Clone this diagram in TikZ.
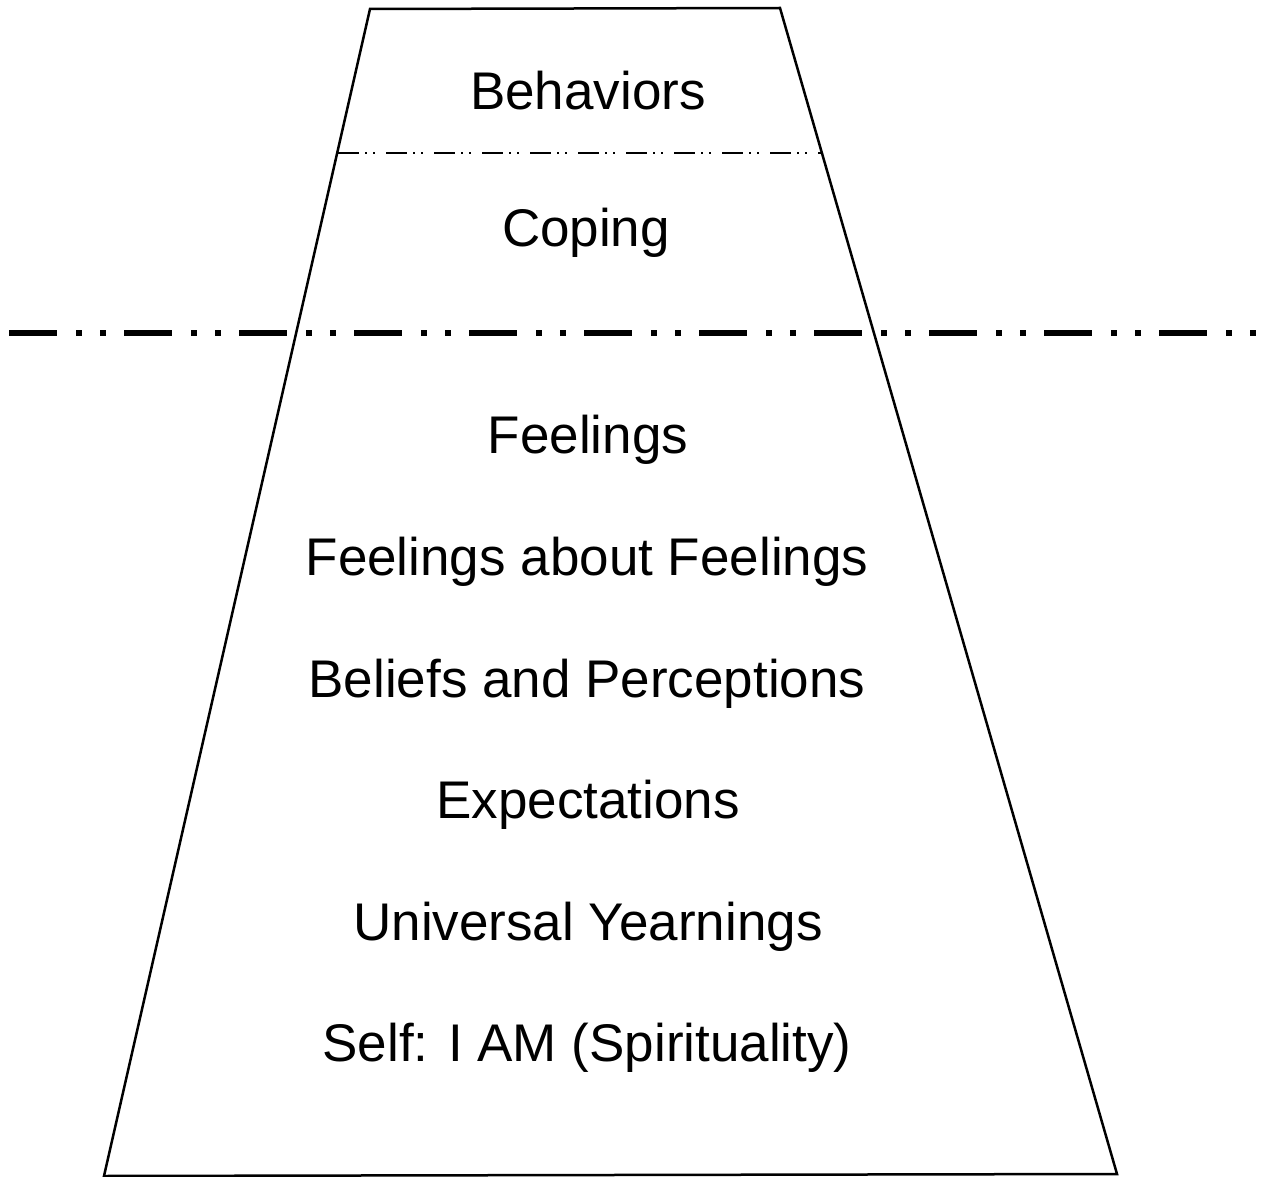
\documentclass[tikz,border=0pt]{standalone}
\usepackage{fontspec}
\setmainfont{Liberation Sans}
\begin{document}
\begin{tikzpicture}[x=1pt,y=-1pt,
  lbl/.style={anchor=base,inner sep=0pt,font=\fontsize{53}{60}\selectfont},
  edge/.style={line width=2.5pt,line join=miter},
  thinsep/.style={line width=2pt,dash pattern=on 21pt off 6pt on 2pt off 6pt on 2pt off 11pt},
  thicksep/.style={line width=6pt,dash pattern=on 48pt off 19pt on 6pt off 18pt on 6pt off 18pt}]
\useasboundingbox (0,0) rectangle (1262,1177);
\coordinate (tl) at (370,9);
\coordinate (tr) at (780,8);
\coordinate (br) at (1117,1174);
\coordinate (bl) at (104,1176);
\draw[edge] (tl) -- (tr) -- (br) -- (bl) -- cycle;
\coordinate (s1l) at (338,153);
\coordinate (s1r) at (821,153);
\draw[thinsep] (s1l) -- (s1r);
\coordinate (s2l) at (9,333);
\coordinate (s2r) at (1262,333);
\draw[thicksep] (s2l) -- (s2r);
\node[lbl] (behaviors) at (588,110) {Behaviors};
\node[lbl] (coping) at (586,247) {Coping};
\node[lbl] (feelings) at (588,453) {Feelings};
\node[lbl] (ff) at (587,575) {Feelings about Feelings};
\node[lbl] (beliefs) at (587,697) {Beliefs and Perceptions};
\node[lbl] (expect) at (588,818) {Expectations};
\node[lbl] (yearn) at (588,940) {Universal Yearnings};
\node[lbl] (self) at (587,1061) {Self: I AM (Spirituality)};
\end{tikzpicture}
\end{document}
